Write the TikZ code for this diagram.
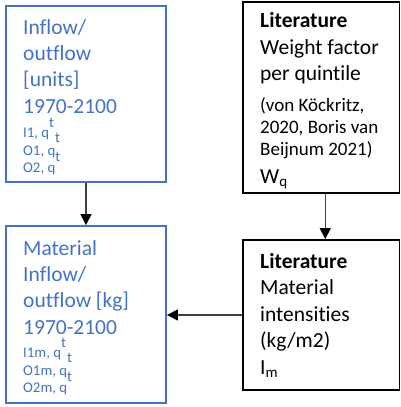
\documentclass[tikz,border=0pt]{standalone}
\usepackage{fontspec}
\setmainfont{Carlito}[Ligatures=CommonOff]
\usetikzlibrary{arrows.meta}
\definecolor{flowblue}{HTML}{4472C4}
\definecolor{linegray}{HTML}{404040}
\begin{document}
\begin{tikzpicture}[x=1pt,y=-1pt,
  flowbox/.style={draw=flowblue,line width=1.8pt,minimum width=160pt,inner sep=0pt},
  litbox/.style={draw=black,line width=1.8pt,minimum width=156.5pt,inner sep=0pt},
  bigtxt/.style={anchor=base west,inner sep=0pt,align=left,font=\fontsize{21.5}{26.3}\selectfont},
  smalltxt/.style={anchor=base west,inner sep=0pt,align=left,font=\fontsize{14.8}{17.5}\selectfont},
  reftxt/.style={anchor=base west,inner sep=0pt,align=left,font=\fontsize{19}{22}\selectfont},
  link/.style={draw=linegray,line width=1.2pt,-{Triangle[length=11pt,width=11pt,color=black]}}]
 \useasboundingbox (0,0) rectangle (401,407);
 % boxes
 \node[flowbox,minimum height=176pt] (units) at (86,94) {};
 \node[flowbox,minimum height=177pt] (mass) at (86,314.5) {};
 \node[litbox,minimum height=191pt] (weight) at (321.25,97.5) {};
 \node[litbox,minimum height=150pt] (intens) at (321.25,315) {};
 % texts (placed at the baseline of their last line)
 \node[bigtxt,text=flowblue] (units-txt) at (23,113) {Inflow/\\outflow\\{[units]}\\1970-2100};
 \node[smalltxt,text=flowblue] (units-vars) at (23,172.5) {I1, q\smash{\raisebox{10pt}{t}}\hspace{1pt}\smash{\raisebox{-5pt}{t}}\\O1, q\smash{\raisebox{-6pt}{t}}\\O2, q};
 \node[bigtxt,text=flowblue] (mass-txt) at (23,334) {Material\\Inflow/\\outflow [kg]\\1970-2100};
 \node[smalltxt,text=flowblue] (mass-vars) at (23,392.5) {I1m, q\smash{\raisebox{10pt}{t}}\hspace{1pt}\smash{\raisebox{-5pt}{t}}\\O1m, q\smash{\raisebox{-6pt}{t}}\\O2m, q};
 \node[bigtxt] (weight-txt) at (260,80.5) {\textbf{Literature}\\Weight factor\\per quintile};
 \node[reftxt] (weight-ref) at (260,155) {(von Köckritz,\\2020, Boris van\\Beijnum 2021)};
 \node[bigtxt] (weight-sym) at (260,183) {W\textsubscript{q}};
 \node[bigtxt,font=\fontsize{21.5}{26.6}\selectfont] (intens-txt) at (260,374.5) {\textbf{Literature}\\Material\\intensities\\(kg/m2)\\I\textsubscript{m}};
 % connectors
 \draw[link] (units) -- (mass);
 \draw[link] ([xshift=4pt]weight.south) -- ([xshift=4pt]intens.north);
 \draw[link] (intens.west) -- (intens.west -| mass.east);
\end{tikzpicture}
\end{document}
